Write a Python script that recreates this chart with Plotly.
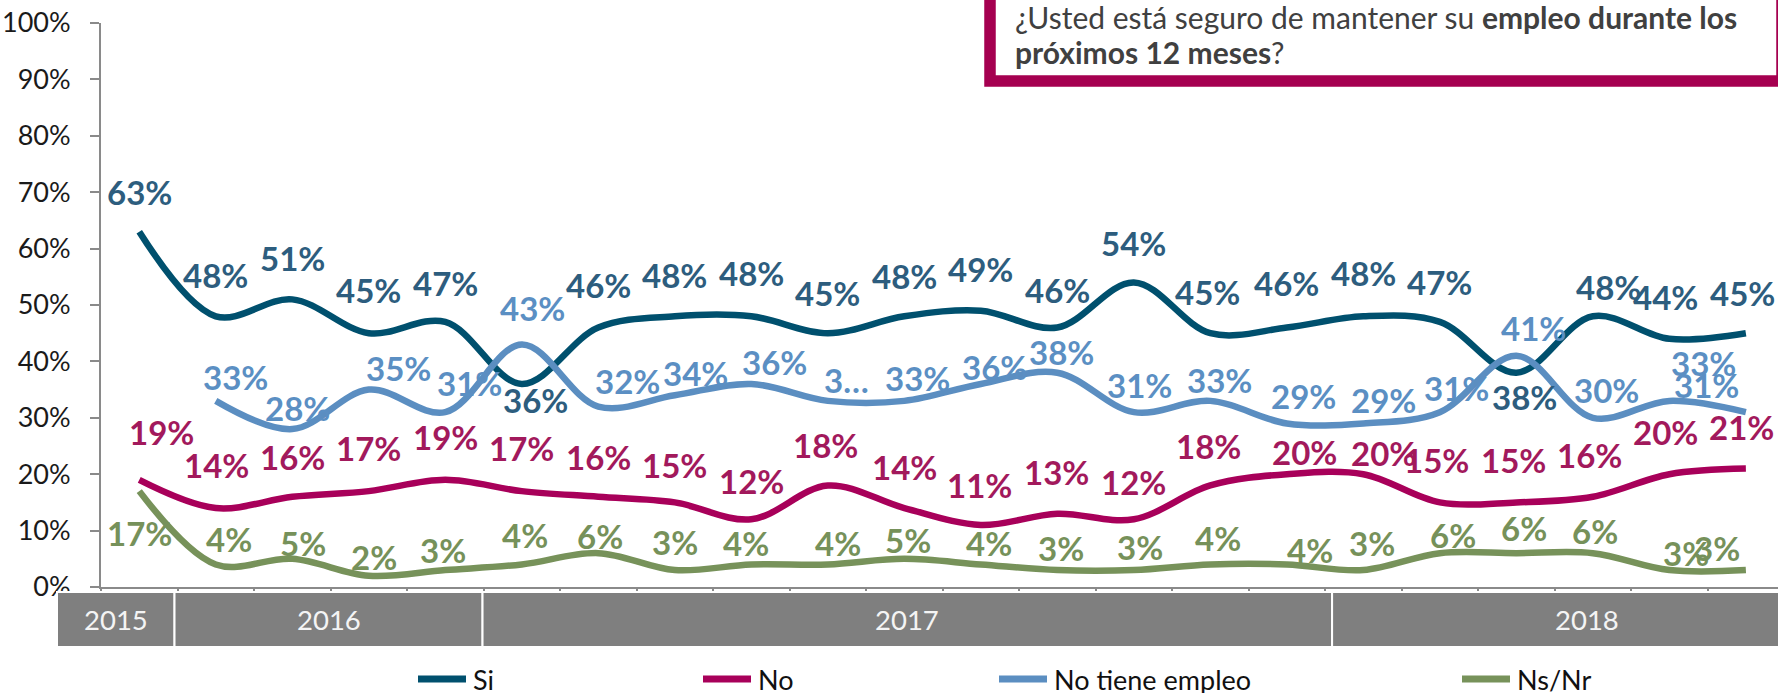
import plotly.graph_objects as go

# ---------------- data ----------------
categories = (["2015-1"]
              + [f"2016-{i}" for i in range(1, 5)]
              + [f"2017-{i}" for i in range(1, 12)]
              + [f"2018-{i}" for i in range(1, 7)])

si = [63, 48, 51, 45, 47, 36, 46, 48, 48, 45, 48, 49, 46, 54, 45, 46, 48, 47, 38, 48, 44, 45]
no = [19, 14, 16, 17, 19, 17, 16, 15, 12, 18, 14, 11, 13, 12, 18, 20, 20, 15, 15, 16, 20, 21]
no_tiene = [None, 33, 28, 35, 31, 43, 32, 34, 36, 33, 33, 36, 38, 31, 33, 29, 29, 31, 41, 30, 33, 31]
ns_nr = [17, 4, 5, 2, 3, 4, 6, 3, 4, 4, 5, 4, 3, 3, 4, 4, 3, 6, 6, 6, 3, 3]

# label texts (one label is truncated in the original)
label_overrides = {"No tiene empleo": {9: "3…"}}

years = ["2015", "2016", "2017", "2018"]
year_counts = [1, 4, 11, 6]

series_names = ["Si", "No", "No tiene empleo", "Ns/Nr"]
question_l1 = "¿Usted está seguro de mantener su <b>empleo durante los</b>"
question_l2 = "<b>próximos 12 meses</b>?"

# ---------------- styles ----------------
W, H = 1778, 693
ML, MR, MT, MB = 101, 0, 23, 106
PW, PH = W - ML - MR, H - MT - MB
XR = [-0.5, 21.42]
FONT = "Lato"

line_colors = {"Si": "#00506E", "No": "#A8005A", "No tiene empleo": "#5B8EC1", "Ns/Nr": "#77925A"}
label_colors = {"Si": "#2D5D7E", "No": "#A2195C", "No tiene empleo": "#5B8FC3", "Ns/Nr": "#76915A"}

# label offsets in px (xshift, yshift) per point
offsets = {
    "Si": (
        [0, 0, 0, 0, 0, 14, 0, 0, 0, 0, 0, 0, 0, 0, -3, 0, 0, 0, 8, 16, -4, -3],
        [40, 41, 41, 43, 39, -16, 43, 41, 43, 40, 40, 42, 38, 39, 41, 45, 43, 40, -24, 29, 42, 40],
    ),
    "No": (
        [22, 1, 0, 0, 0, 0, 0, 0, 0, -2, 0, -1, -1, 0, -2, 18, 20, -3, -3, -3, -4, -4],
        [48, 43, 40, 43, 43, 43, 40, 37, 38, 40, 41, 40, 42, 37, 39, 22, 21, 42, 42, 42, 42, 42],
    ),
    "No tiene empleo": (
        [0, 20, 5, 30, 24, 11, 29, 21, 23, 19, 13, 14, 4, 6, 9, 17, 20, 17, 17, 14, 34, -39],
        [0, 24, 21, 22, 29, 36, 26, 22, 22, 21, 23, 17, 21, 27, 21, 27, 23, 24, 28, 28, 38, 27],
    ),
    "Ns/Nr": (
        [0, 13, 11, 5, -2, 3, 2, 0, -5, 10, 4, 8, 4, 6, 8, 23, 9, 13, 8, 2, 17, -29],
        [-42, 25, 16, 19, 20, 29, 17, 28, 21, 21, 19, 21, 22, 23, 26, 14, 27, 18, 25, 22, 17, 22],
    ),
}

# year band edge adjustments in px (outer edges extend beyond the plot)
band_edge_adjust_px = [-44, -3, -1, 7, 57]


def px_x(px):
    return (px - ML) / PW


def px_y(py):
    return (H - MB - py) / PH


values = {"Si": si, "No": no, "No tiene empleo": no_tiene, "Ns/Nr": ns_nr}

fig = go.Figure()
annotations = []
shapes = []

for name in series_names:
    vals = values[name]
    fig.add_trace(go.Scatter(
        x=categories, y=vals, name=name, mode="lines",
        line=dict(color=line_colors[name], width=6.5, shape="spline", smoothing=1.0),
        connectgaps=False, showlegend=False, hoverinfo="skip",
    ))
    xs, ys = offsets[name]
    ov = label_overrides.get(name, {})
    for i, v in enumerate(vals):
        if v is None:
            continue
        annotations.append(dict(
            x=categories[i], y=v, xref="x", yref="y",
            text=ov.get(i, f"{v}%"), showarrow=False,
            xanchor="center", yanchor="middle",
            xshift=xs[i], yshift=ys[i],
            font=dict(family=FONT, size=33, color=label_colors[name], weight=700),
        ))

# ---------------- year band ----------------
span = XR[1] - XR[0]
bounds = [0]
for c in year_counts:
    bounds.append(bounds[-1] + c)
edges = [b / span + band_edge_adjust_px[j] / PW for j, b in enumerate(bounds)]
band_y0, band_y1 = px_y(647), px_y(592)
for k, yr in enumerate(years):
    x0, x1 = edges[k], edges[k + 1]
    shapes.append(dict(type="rect", xref="paper", yref="paper", x0=x0, x1=x1, y0=band_y0, y1=band_y1,
                       fillcolor="#7F7F7F", line=dict(color="#FFFFFF", width=2), layer="above"))
    annotations.append(dict(x=(x0 + x1) / 2, y=(band_y0 + band_y1) / 2, xref="paper", yref="paper",
                            text=yr, showarrow=False, xanchor="center", yanchor="middle",
                            font=dict(family=FONT, size=27.5, color="#F4F4F4")))

# ---------------- manual legend ----------------
legend_pos = {"Si": 415, "No": 700, "No tiene empleo": 996, "Ns/Nr": 1459}
leg_y = px_y(679)
for name in series_names:
    lx = legend_pos[name]
    shapes.append(dict(type="line", xref="paper", yref="paper", x0=px_x(lx + 3), x1=px_x(lx + 51),
                       y0=leg_y, y1=leg_y, line=dict(color=line_colors[name], width=7)))
    annotations.append(dict(x=px_x(lx + 56), y=leg_y, xref="paper", yref="paper", text=name,
                            showarrow=False, xanchor="left", yanchor="middle",
                            font=dict(family=FONT, size=27, color="#111111")))

# ---------------- question box ----------------
shapes.append(dict(type="rect", xref="paper", yref="paper", x0=px_x(990), x1=px_x(1782),
                   y0=px_y(81), y1=px_y(-30), fillcolor="#FFFFFF",
                   line=dict(color="#A50050", width=11.5), layer="above"))
annotations.append(dict(x=px_x(1013), y=px_y(17), xref="paper", yref="paper", text=question_l1,
                        showarrow=False, xanchor="left", yanchor="middle",
                        font=dict(family=FONT, size=30, color="#404040")))
annotations.append(dict(x=px_x(1013), y=px_y(52), xref="paper", yref="paper", text=question_l2,
                        showarrow=False, xanchor="left", yanchor="middle",
                        font=dict(family=FONT, size=30, color="#404040")))

fig.update_layout(
    template="none",
    width=W, height=H,
    margin=dict(l=ML, r=MR, t=MT, b=MB, pad=0),
    paper_bgcolor="#FFFFFF", plot_bgcolor="#FFFFFF",
    showlegend=False,
    annotations=annotations, shapes=shapes,
    font=dict(family=FONT),
    xaxis=dict(type="category", categoryorder="array", categoryarray=categories,
               range=XR, showticklabels=False, ticks="outside", tickson="boundaries",
               ticklen=5, tickwidth=2, tickcolor="#8A8A8A", showline=True, linecolor="#8A8A8A",
               linewidth=2, showgrid=False, zeroline=False, automargin=False, fixedrange=True),
    yaxis=dict(range=[0, 100], dtick=10, ticksuffix="%", ticks="outside", ticklen=9,
               tickwidth=1.5, tickcolor="#8A8A8A", showline=True, linecolor="#8A8A8A", linewidth=2,
               showgrid=False, zeroline=False, automargin=False, ticklabelstandoff=14,
               tickfont=dict(family=FONT, size=27, color="#1A1A1A"), fixedrange=True),
)

fig.write_html("out.html", config={"displayModeBar": False},
               post_script="document.body.style.margin='0';document.body.style.overflow='hidden';")
